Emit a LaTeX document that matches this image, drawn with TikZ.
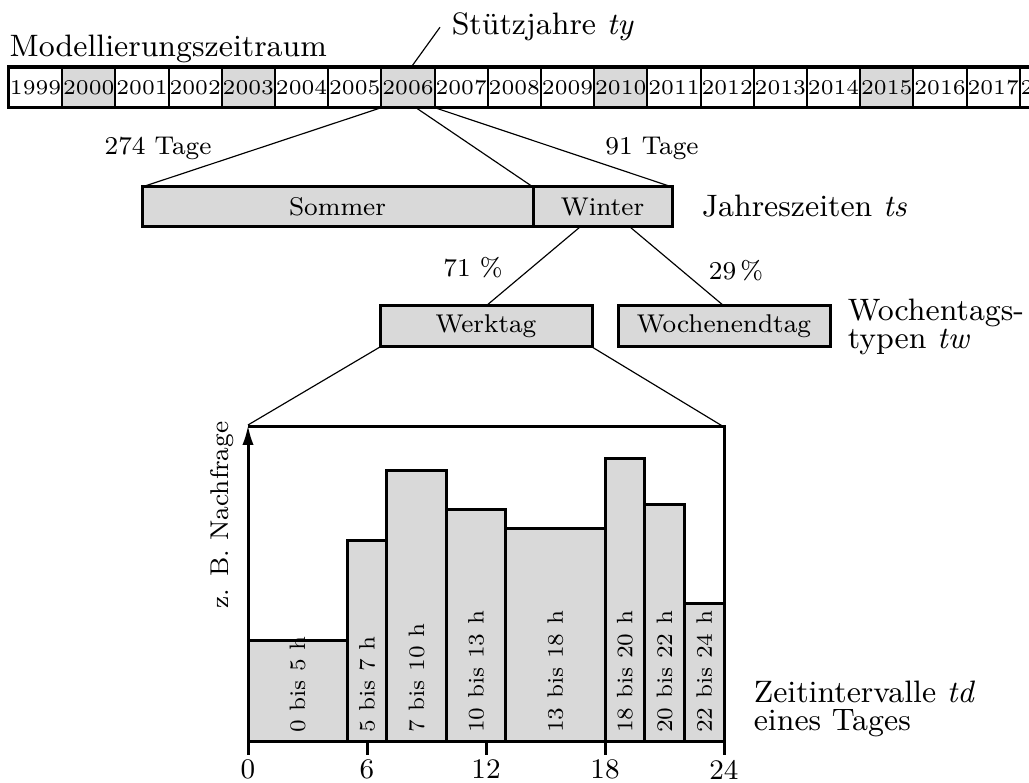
\documentclass[tikz,border=0pt]{standalone}
\usepackage{tikz}
\usetikzlibrary{arrows.meta,positioning,calc}
\usepackage{xcolor}
\definecolor{boxGray}{HTML}{D9D9D9}

\begin{document}
\begin{tikzpicture}[x=0.3pt,y=-0.3pt,every node/.style={font=\fontsize{7.7}{9}\selectfont},
    yearcell/.style={draw,line width=0.6pt,minimum width=15.96pt,minimum height=11.7pt,inner sep=0pt,font=\fontsize{6.3}{8}\selectfont},
    grayblock/.style={draw,line width=0.9pt,fill=boxGray,inner sep=0pt,outer sep=0pt,minimum height=12pt},
    biglabel/.style={font=\fontsize{9.3}{8.4}\selectfont},
    hourlabel/.style={rotate=90,anchor=west,inner sep=2.5pt,font=\fontsize{6.7}{8}\selectfont},
    thinline/.style={line width=0.35pt},
    thickline/.style={line width=0.9pt}]
    \useasboundingbox (0,0) rectangle (1029,783);
    \clip (0,0) rectangle (1029,783);
    \foreach \yr/\col [count=\i from 0] in {1999/white,2000/boxGray,2001/white,2002/white,2003/boxGray,2004/white,2005/white,2006/boxGray,2007/white,2008/white,2009/white,2010/boxGray,2011/white,2012/white,2013/white,2014/white,2015/boxGray,2016/white,2017/white,2018/white}
      \node[yearcell,fill=\col] (y\yr) at ({35.6+53.2*\i},87.5) {\yr};
    \draw[thickline] (y1999.north west) rectangle (y2018.south east);
    \node[biglabel,anchor=base west,inner sep=0pt] (period) at (9,57) {Modellierungszeitraum};
    \node[biglabel,anchor=base west] (stuetz) at (440,35) {Stützjahre \textit{ty}};
    \draw[thinline] ([xshift=1pt]y2006.north) -- (stuetz.west);
    \node[grayblock,minimum width=117.3pt] (sommer) at (337.5,207) {Sommer};
    \node[grayblock,minimum width=41.7pt,right=0pt of sommer] (winter) {Winter};
    \node[biglabel,anchor=west] (ts) at (690,206) {Jahreszeiten \textit{ts}};
    \draw[thinline] (y2006.south west) -- (sommer.north west);
    \draw[thinline] ([xshift=2.5pt]y2006.south) -- (sommer.north east);
    \draw[thinline] (y2006.south east) -- (winter.north east);
    \node (tage274) at (158,148) {274 Tage};
    \node (tage91) at (652,148) {91 Tage};
    \node[grayblock,minimum width=63.6pt,minimum height=12.3pt] (werktag) at (486,326.5) {Werktag};
    \node[grayblock,minimum width=63.6pt,minimum height=12.3pt,right=7.8pt of werktag] (wochenende) {Wochenendtag};
    \node[biglabel,align=left,anchor=west] (tw) at (836,327) {Wochentags-\\typen \textit{tw}};
    \draw[thinline] ([xshift=-6.75pt]winter.south) -- (werktag.north);
    \draw[thinline] ([xshift=8.25pt]winter.south) -- (wochenende.north);
    \node (anteil71) at (473,268) {71~\%};
    \node (anteil29) at (736,271) {29\,\%};
    \coordinate (origin) at (248,742);
    \coordinate (ytop) at (248,425);
    \coordinate (ctr) at (724,427);
    \draw[thinline] (werktag.south west) -- (ytop);
    \draw[thinline] (werktag.south east) -- (ctr);
    \foreach \a/\b/\h in {0/5/641,5/7/541,7/10/471,10/13/510,13/18/529,18/20/459,20/22/505,22/24/604} {
      \draw[thickline,fill=boxGray] ({248+19.833*\a},742) rectangle ({248+19.833*\b},\h);
      \node[hourlabel] (bar\a) at ({248+19.833*(\a+\b)/2},742) {\a{} bis \b{} h};
    }
    \draw[thickline] (ytop |- ctr) -- (ctr) -- (ctr |- origin);
    \draw[thickline] (origin) -- (ctr |- origin);
    \draw[thickline,-{Latex[length=6pt,width=3.4pt]}] (origin) -- (ytop);
    \foreach \t in {0,6,12,18,24}
      \draw[thickline] ({248+19.833*\t},742) -- ({248+19.833*\t},755) node[anchor=north,inner sep=1pt,font=\fontsize{8.5}{9}\selectfont] (tick\t) {\t};
    \node[rotate=90] (demand) at (222,515) {z. B. Nachfrage};
    \node[biglabel,align=left,anchor=west] (td) at (742,709) {Zeitintervalle \textit{td}\\eines Tages};
\end{tikzpicture}
\end{document}
